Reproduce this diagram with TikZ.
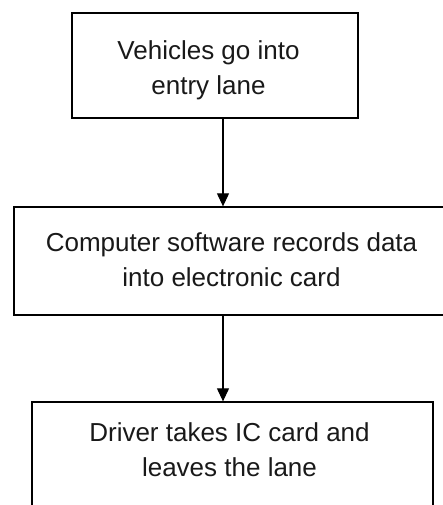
\documentclass[tikz,border=0pt]{standalone}
\usepackage{fontspec}
\setmainfont{Liberation Sans}
\usetikzlibrary{arrows.meta}
\begin{document}
\begin{tikzpicture}[x=1pt,y=-1pt,
  boxstyle/.style={draw=black, line width=1.3pt, rectangle, inner sep=0pt},
  txtstyle/.style={align=center, inner sep=0pt, font=\fontsize{26}{35}\selectfont, text=black!90},
  arrowstyle/.style={line width=1.1pt, -{Triangle[length=13pt,width=12pt]}}]
\useasboundingbox (0,0) rectangle (443,505);
\path[clip] (0,0) rectangle (443,505);
\node[boxstyle, minimum width=286pt, minimum height=105pt] (b1) at (215,65.5) {};
\node[boxstyle, minimum width=440pt, minimum height=108pt] (b2) at (234,261) {};
\node[boxstyle, minimum width=401pt, minimum height=110pt] (b3) at (232.5,457) {};
\node[txtstyle] (t1) at (208.5,70) {Vehicles go into\\entry lane};
\node[txtstyle] (t2) at (231.5,260) {Computer software records data\\into electronic card};
\node[txtstyle] (t3) at (229.5,450) {Driver takes IC card and\\leaves the lane};
\coordinate (ax) at (223,0);
\draw[arrowstyle] (b1.south -| ax) -- (b2.north -| ax);
\draw[arrowstyle] (b2.south -| ax) -- (b3.north -| ax);
\end{tikzpicture}
\end{document}
